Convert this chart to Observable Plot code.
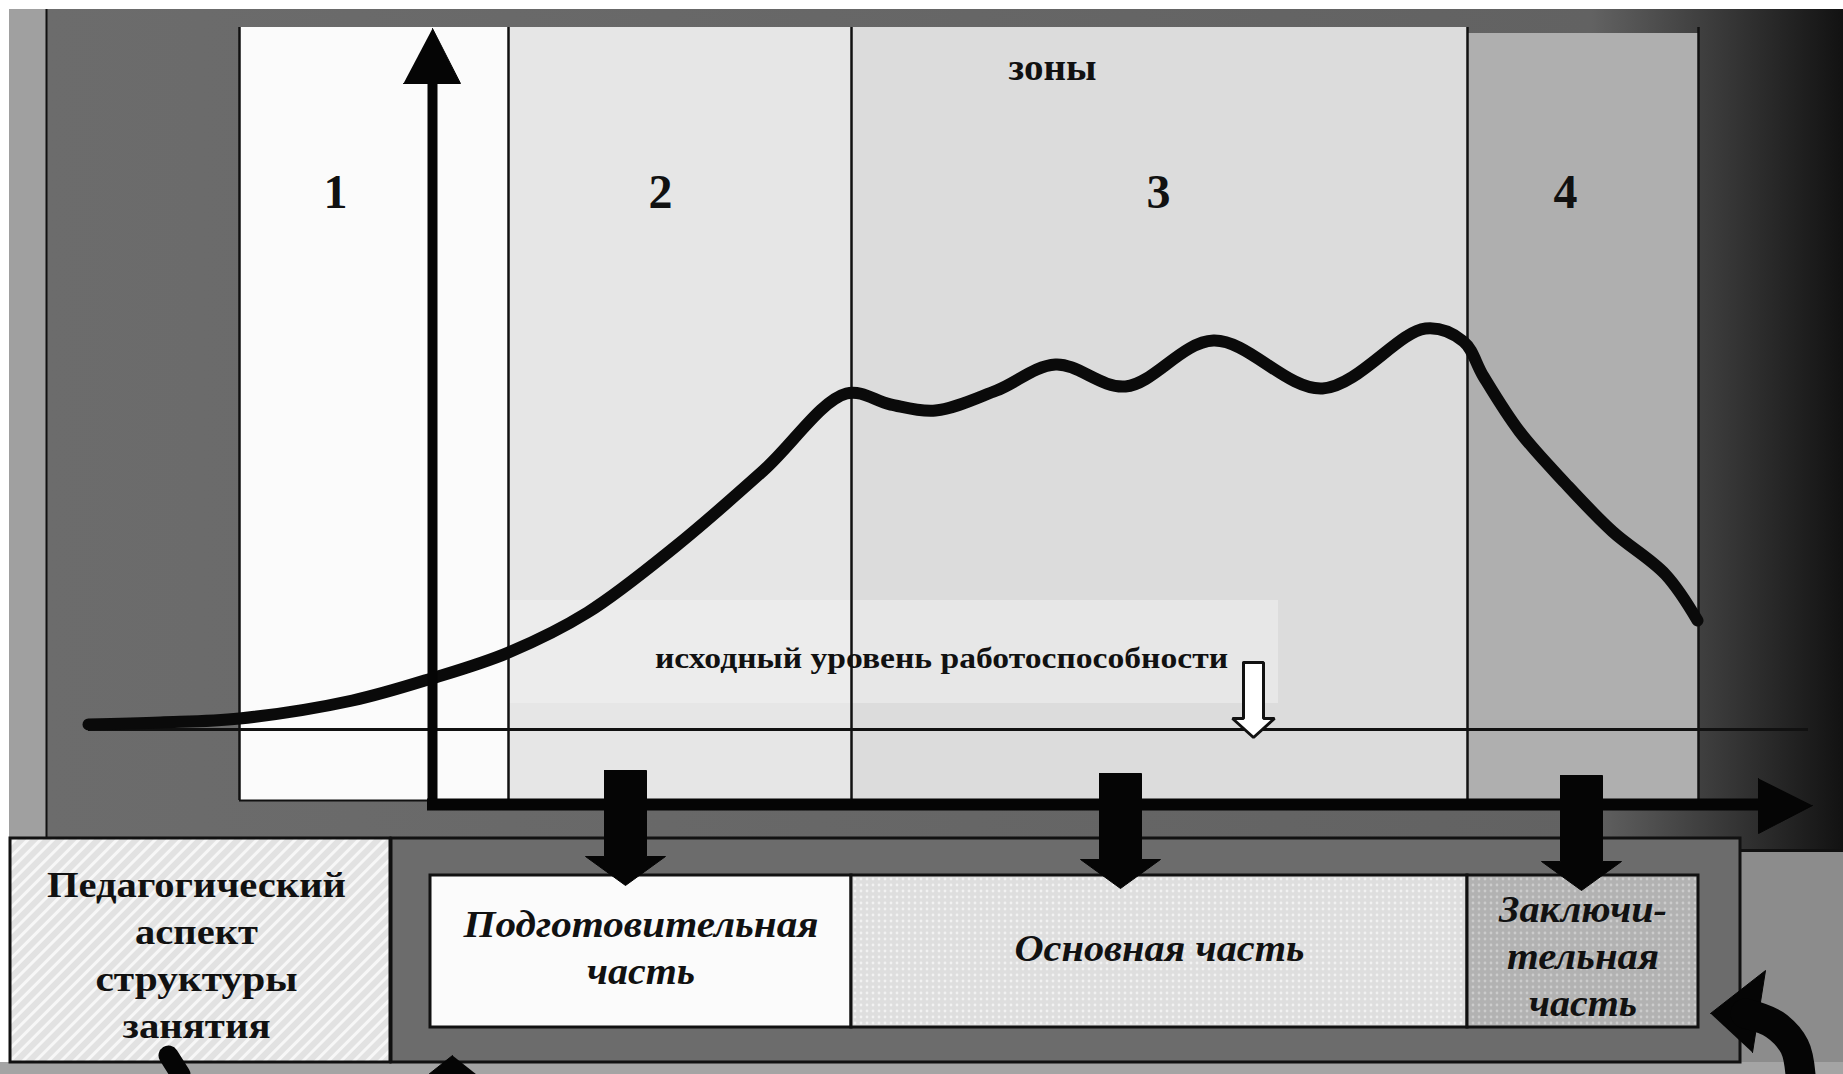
<!DOCTYPE html>
<html><head><meta charset="utf-8">
<script src="https://cdn.jsdelivr.net/npm/d3@7"></script>
<script src="https://cdn.jsdelivr.net/npm/@observablehq/plot@0.6"></script>
<style>html,body{margin:0;padding:0;background:#fff;} svg{display:block}</style>
</head><body><div id="chart"></div>
<script>
// ---- Data (diagram geometry, in picture units) ----
const zoneNames = ["1", "2", "3", "4"];
const zoneFrom = [239, 508, 851, 1467];
const zoneTo = [508, 851, 1467, 1698];
const zoneLabelAt = [335, 660, 1158, 1565];
const zonesTitle = "зоны";

const curveT = [88, 160, 239, 352, 431, 508, 587, 675, 763, 846, 890, 935, 996, 1055, 1125, 1213, 1322, 1425, 1463, 1483, 1519, 1565, 1612, 1665, 1697];
const curveLevel = [724, 722, 718, 700, 678, 652, 612, 546, 470, 393, 404, 410, 390, 364, 386, 340, 388, 328, 341, 376, 431, 483, 531, 574, 620];

const baselineLevel = 729;
const baselineLabel = "исходный уровень работоспособности";
const baselineArrowAt = 1253;

const partNames = ["Подготовительная часть", "Основная часть", "Заключительная часть"];
const partLines = [["Подготовительная", "часть"], ["Основная часть"], ["Заключи-", "тельная", "часть"]];
const dropArrowAt = [625, 1120, 1581];
const aspectLines = ["Педагогический", "аспект", "структуры", "занятия"];

// ---- Layout constants ----
const W = 1843, H = 1074;
const panelTop = 27, panelBottom = 800;
const axisX = 432, axisY = 804;
const partTop = 875, partBottom = 1027;
const frame = {x1: 391, x2: 1740, y1: 838, y2: 1062};
const aspectBox = {x1: 10, x2: 390, y1: 838, y2: 1062};
const partFrom = [430, zoneFrom[2], zoneFrom[3]];
const partTo = [zoneTo[1], zoneTo[2], zoneTo[3]];
const zoneFill = ["#fbfbfb", "#e6e6e6", "#dcdcdc", "#afafaf"];
const partFill = ["#fbfbfb", "url(#dotsLight)", "url(#dotsDark)"];

const fitWidths = new Map([
  ["Педагогический", 299], ["аспект", 123], ["структуры", 202], ["занятия", 148],
  ["Подготовительная", 355], ["часть", 108], ["Основная часть", 290],
  ["Заключи-", 168], ["тельная", 152], [baselineLabel, 573], [zonesTitle, 88]
]);

// derived tables
const zones = zoneNames.map((name, i) => ({name, x1: zoneFrom[i], x2: zoneTo[i], top: i === 3 ? 33 : panelTop, fill: zoneFill[i], lx: zoneLabelAt[i]}));
const curve = curveT.map((t, i) => ({t, v: curveLevel[i]}));
const parts = partNames.map((name, i) => ({name, x1: partFrom[i], x2: partTo[i], fill: partFill[i]}));
const partText = parts.flatMap((p, i) => partLines[i].map((line, j, arr) => ({
  text: line, x: (p.x1 + p.x2) / 2, y: 960 + (j - (arr.length - 1) / 2) * 47 + (arr.length === 3 ? 8 : 0)
})));
const aspectText = aspectLines.map((line, j) => ({text: line, x: 196, y: 967 + (j - 1.5) * 46.7}));

function downArrow(id, cx, top, headY, tip, sh, hh) {
  return [[cx - sh, top], [cx + sh, top], [cx + sh, headY], [cx + hh, headY], [cx, tip], [cx - hh, headY], [cx - sh, headY], [cx - sh, top]]
    .map(([x, y]) => ({id, x, y}));
}
const dropTops = [770, 773, 775];
const drops = dropArrowAt.flatMap((cx, i) => downArrow("d" + i, cx, dropTops[i], dropTops[i] + 86, dropTops[i] + 115, 21, 40));
const hollow = downArrow("h", baselineArrowAt, 662, 718, baselineLevel + 8, 10, 21);
const heads = [
  ...[[axisX, 28], [axisX + 28, 83], [axisX - 29, 83]].map(([x, y]) => ({id: "up", x, y})),
  ...[[1812, axisY + 1], [1758, axisY + 29], [1758, axisY - 26]].map(([x, y]) => ({id: "right", x, y})),
  ...[[1710, 1013], [1765, 970], [1752, 1052]].map(([x, y]) => ({id: "curl", x, y})),
  ...[[452, 1055], [428, 1074], [476, 1074]].map(([x, y]) => ({id: "tipL", x, y}))
];
const curlPath = [{x: 1800, y: 1074}, {x: 1794, y: 1046}, {x: 1774, y: 1024}, {x: 1745, y: 1013}];
const stubPath = [{x: 168, y: 1055}, {x: 180, y: 1074}];

const blackRect = (d, o) => Plot.rect(d, {x1: "x1", x2: "x2", y1: "y1", y2: "y2", ...o});

const svg = Plot.plot({
  width: W, height: H,
  margin: 0,
  x: {domain: [0, W], range: [0, W], axis: null},
  y: {domain: [0, H], range: [0, H], axis: null},
  color: {type: "identity"},
  style: {background: "#ffffff", overflow: "hidden"},
  marks: [
    // surrounding frame
    blackRect([{x1: 46, x2: W, y1: 9, y2: 850}], {fill: "url(#frameGrad)"}),
    blackRect([{x1: 9, x2: 46, y1: 9, y2: 838}], {fill: "#a0a0a0"}),
    Plot.ruleX([46], {y1: 9, y2: 838, stroke: "#111", strokeWidth: 2}),
    blackRect([{x1: 1740, x2: W, y1: 850, y2: H}], {fill: "#8c8c8c"}),
    Plot.ruleY([850], {x1: 1740, x2: W, stroke: "#111", strokeWidth: 3}),
    blackRect([{x1: 0, x2: W, y1: 1062, y2: H}], {fill: "#a4a4a4"}),
    // zones panel
    Plot.rect(zones, {x1: "x1", x2: "x2", y1: "top", y2: panelBottom, fill: "fill"}),
    blackRect([{x1: 508, x2: 1278, y1: 600, y2: 703}], {fill: "#f1f1f1", fillOpacity: 0.5}),
    Plot.ruleX([...zoneFrom, zoneTo[3]], {y1: panelTop, y2: panelBottom, stroke: "#111", strokeWidth: 2.5}),
    Plot.ruleY([panelBottom], {x1: zoneFrom[0], x2: axisX, stroke: "#111", strokeWidth: 2}),
    // base level line
    Plot.ruleY([baselineLevel], {x1: 88, x2: 1808, stroke: "#111", strokeWidth: 3}),
    // performance curve
    Plot.line(curve, {x: "t", y: "v", curve: "catmull-rom", stroke: "#0a0a0a", strokeWidth: 12, strokeLinecap: "round", strokeLinejoin: "round"}),
    // axes
    Plot.ruleX([axisX], {y1: 80, y2: axisY + 6, stroke: "#050505", strokeWidth: 10}),
    Plot.ruleY([axisY], {x1: axisX - 5, x2: 1762, stroke: "#050505", strokeWidth: 12}),
    // lower frame and boxes
    blackRect([frame], {fill: "#6c6c6c", stroke: "#111", strokeWidth: 3}),
    blackRect([aspectBox], {fill: "url(#hatch)", stroke: "#111", strokeWidth: 3}),
    Plot.rect(parts, {x1: "x1", x2: "x2", y1: partTop, y2: partBottom, fill: "fill", stroke: "#111", strokeWidth: 3}),
    // arrows
    Plot.line(heads, {x: "x", y: "y", z: "id", fill: "#050505", stroke: "#050505", strokeWidth: 1}),
    Plot.line(drops, {x: "x", y: "y", z: "id", fill: "#050505", stroke: "#050505", strokeWidth: 1}),
    Plot.line(hollow, {x: "x", y: "y", z: "id", fill: "#ffffff", stroke: "#111", strokeWidth: 3, strokeLinejoin: "miter"}),
    Plot.line(curlPath, {x: "x", y: "y", curve: "catmull-rom", stroke: "#050505", strokeWidth: 30}),
    Plot.line(stubPath, {x: "x", y: "y", stroke: "#050505", strokeWidth: 20}),
    // texts
    Plot.text(zones, {x: "lx", y: 207, text: "name", lineAnchor: "bottom", fontSize: 48, fontWeight: "bold", fontFamily: "Liberation Serif", fill: "#111"}),
    Plot.text([zonesTitle], {x: 1052, y: 79, text: d => d, lineAnchor: "bottom", fontSize: 38, fontWeight: "bold", fontFamily: "Liberation Serif", fill: "#111"}),
    Plot.text([baselineLabel], {x: 941, y: 667, text: d => d, lineAnchor: "bottom", fontSize: 30, fontWeight: "bold", fontFamily: "Liberation Serif", fill: "#111"}),
    Plot.text(aspectText, {x: "x", y: "y", text: "text", lineAnchor: "bottom", fontSize: 35, fontWeight: "bold", fontFamily: "Liberation Serif", fill: "#111"}),
    Plot.text(partText, {x: "x", y: "y", text: "text", lineAnchor: "bottom", fontSize: 37, fontWeight: "bold", fontStyle: "italic", fontFamily: "Liberation Serif", fill: "#111"})
  ]
});

// pattern / gradient definitions referenced by fills
d3.select(svg).insert("defs", ":first-child").html(`
  <linearGradient id="frameGrad" x1="0" x2="1" y1="0" y2="0">
    <stop offset="0" stop-color="#6c6c6c"/>
    <stop offset="0.86" stop-color="#626262"/>
    <stop offset="0.93" stop-color="#3a3a3a"/>
    <stop offset="1" stop-color="#121212"/>
  </linearGradient>
  <pattern id="hatch" width="9" height="9" patternUnits="userSpaceOnUse" patternTransform="rotate(45)">
    <rect width="9" height="9" fill="#e2e2e2"/>
    <rect width="3" height="9" fill="#f7f7f7"/>
  </pattern>
  <pattern id="dotsLight" width="6" height="6" patternUnits="userSpaceOnUse">
    <rect width="6" height="6" fill="#dedede"/>
    <circle cx="3" cy="3" r="1.4" fill="#f2f2f2"/>
  </pattern>
  <pattern id="dotsDark" width="6" height="6" patternUnits="userSpaceOnUse">
    <rect width="6" height="6" fill="#b2b2b2"/>
    <circle cx="3" cy="3" r="1.4" fill="#cccccc"/>
  </pattern>`);

// fit text widths to the picture
d3.select(svg).selectAll("text").each(function () {
  const w = fitWidths.get(this.textContent);
  if (w) { this.setAttribute("textLength", w); this.setAttribute("lengthAdjust", "spacingAndGlyphs"); }
});

document.getElementById("chart").appendChild(svg);
</script></body></html>
